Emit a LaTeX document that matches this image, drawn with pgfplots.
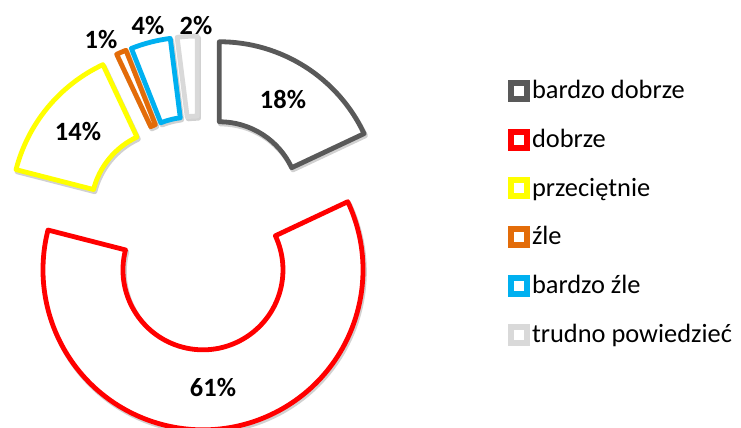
\documentclass[border=0pt]{standalone}
\usepackage{fontspec}
\setmainfont{Carlito}
\usepackage{pgfplots}
\usepackage{pgfplotstable}
\pgfplotsset{compat=1.18}

\definecolor{slice0}{HTML}{595959}
\definecolor{slice1}{HTML}{FF0000}
\definecolor{slice2}{HTML}{FFFF00}
\definecolor{slice3}{HTML}{E36C09}
\definecolor{slice4}{HTML}{00B0F0}
\definecolor{slice5}{HTML}{D9D9D9}

% value = share in percent; lx, ly = label position (axis units)
\pgfplotstableread[col sep=comma]{
label,value,lx,ly
bardzo dobrze,18,283,328
dobrze,61,213,40
przeciętnie,14,78,296
źle,1,101,388
bardzo źle,4,148,402
trudno powiedzieć,2,196,402
}\donut

\begin{document}
\begin{tikzpicture}
\useasboundingbox (0,0) rectangle (370.5pt,214pt);
\clip (0,0) rectangle (370.5pt,214pt);
\def\R{160}\def\r{80}\def\ex{37}\def\cx{199.5}\def\cy{195}
\gdef\cum{0}
\foreach \i in {0,...,5}{%
  \pgfplotstablegetelem{\i}{value}\of\donut
  \let\v\pgfplotsretval
  \expandafter\xdef\csname val\i\endcsname{\v}%
  \pgfmathsetmacro\as{90-3.6*\cum}%
  \pgfmathsetmacro\ae{90-3.6*(\cum+\v)}%
  \pgfmathsetmacro\am{(\as+\ae)/2}%
  \pgfmathsetmacro\ox{\cx+\ex*cos(\am)}%
  \pgfmathsetmacro\oy{\cy+\ex*sin(\am)}%
  \pgfmathsetmacro\px{\ox+\R*cos(\as)}%
  \pgfmathsetmacro\py{\oy+\R*sin(\as)}%
  \pgfmathsetmacro\qx{\ox+\r*cos(\ae)}%
  \pgfmathsetmacro\qy{\oy+\r*sin(\ae)}%
  \expandafter\xdef\csname as\i\endcsname{\as}%
  \expandafter\xdef\csname ae\i\endcsname{\ae}%
  \expandafter\xdef\csname px\i\endcsname{\px}%
  \expandafter\xdef\csname py\i\endcsname{\py}%
  \expandafter\xdef\csname qx\i\endcsname{\qx}%
  \expandafter\xdef\csname qy\i\endcsname{\qy}%
  \pgfplotstablegetelem{\i}{lx}\of\donut
  \expandafter\xdef\csname lx\i\endcsname{\pgfplotsretval}%
  \pgfplotstablegetelem{\i}{ly}\of\donut
  \expandafter\xdef\csname ly\i\endcsname{\pgfplotsretval}%
  \pgfmathsetmacro\nc{\cum+\v}%
  \xdef\cum{\nc}%
}
\begin{axis}[
  scale only axis, width=370.5pt, height=214pt,
  xmin=0, xmax=741, ymin=0, ymax=428,
  hide axis, clip=true,
  legend image code/.code={\draw[#1, line width=3pt, fill=white] (1.8pt,-4pt) rectangle (9.8pt,4pt);},
  legend style={at={(axis cs:508,350)}, anchor=north west, draw=none, fill=none,
    font=\fontsize{13.2}{15.8}\selectfont, row sep=12.2pt, inner sep=0pt,
    nodes={inner sep=0.8pt}},
  legend cell align=left,
]
\pgfplotsinvokeforeach{0,...,5}{
  \draw[line width=2.6pt, draw=black, opacity=0.18, line join=round, xshift=0.6pt, yshift=-1pt]
    (axis cs:\csname px#1\endcsname,\csname py#1\endcsname)
    arc[start angle=\csname as#1\endcsname, end angle=\csname ae#1\endcsname, radius=80pt]
    -- (axis cs:\csname qx#1\endcsname,\csname qy#1\endcsname)
    arc[start angle=\csname ae#1\endcsname, end angle=\csname as#1\endcsname, radius=40pt]
    -- cycle;
}
\pgfplotsinvokeforeach{0,...,5}{
  \draw[line width=2.4pt, draw=slice#1, fill=white, line join=round]
    (axis cs:\csname px#1\endcsname,\csname py#1\endcsname)
    arc[start angle=\csname as#1\endcsname, end angle=\csname ae#1\endcsname, radius=80pt]
    -- (axis cs:\csname qx#1\endcsname,\csname qy#1\endcsname)
    arc[start angle=\csname ae#1\endcsname, end angle=\csname as#1\endcsname, radius=40pt]
    -- cycle;
  \node[font=\fontsize{13.2}{15.8}\selectfont\bfseries] at (axis cs:\csname lx#1\endcsname,\csname ly#1\endcsname) {\csname val#1\endcsname\%};
}
\addlegendimage{draw=slice0}\addlegendentry{bardzo dobrze}
\addlegendimage{draw=slice1}\addlegendentry{dobrze}
\addlegendimage{draw=slice2}\addlegendentry{przeciętnie}
\addlegendimage{draw=slice3}\addlegendentry{źle}
\addlegendimage{draw=slice4}\addlegendentry{bardzo źle}
\addlegendimage{draw=slice5, line width=2pt}\addlegendentry{trudno powiedzieć}
\end{axis}
\end{tikzpicture}
\end{document}
